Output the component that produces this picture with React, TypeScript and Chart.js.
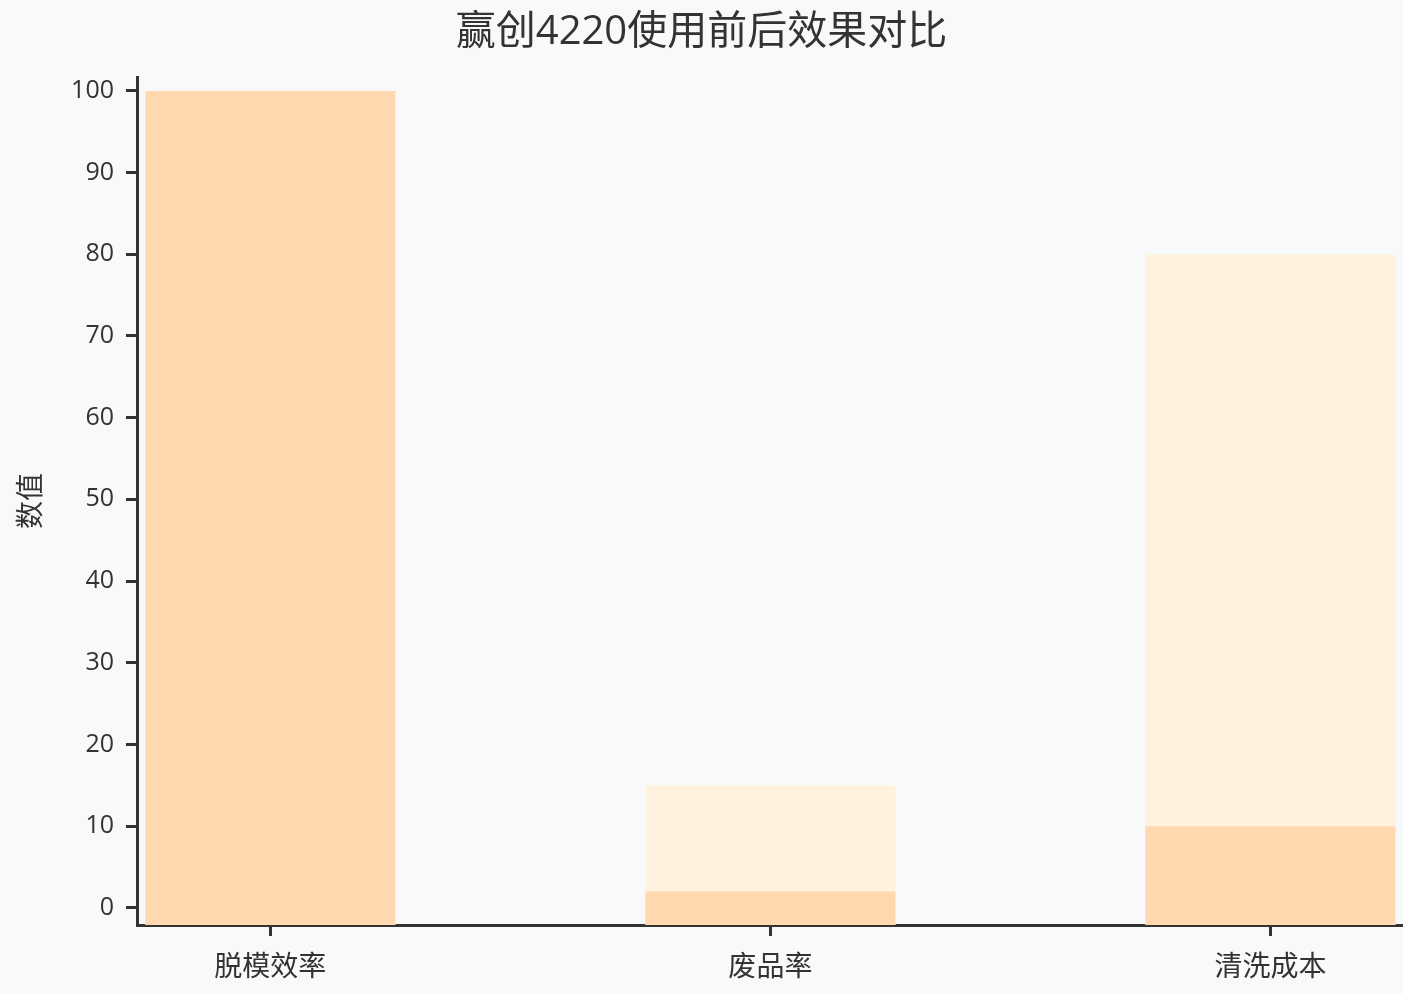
import React, { useEffect, useRef } from "react";
import { Chart, registerables } from "chart.js";

Chart.register(...registerables);

const categories = ["脱模效率", "废品率", "清洗成本"];
const afterValues = [100, 2, 10];
const beforeValues = [60, 15, 80];
const yTicks = [0, 10, 20, 30, 40, 50, 60, 70, 80, 90, 100];

const TEXT = "#333333";
const FONT = '"Open Sans", "Noto Sans CJK SC", sans-serif';

export default function App() {
  const ref = useRef<HTMLCanvasElement | null>(null);

  useEffect(() => {
    document.body.style.margin = "0";
    document.body.style.background = "#F8F9FB";
    const canvas = ref.current;
    if (!canvas) return;
    const Y_MIN = -2.1;
    const chart = new Chart(canvas, {
      type: "bar",
      data: {
        datasets: [
          {
            label: "使用后",
            data: categories.map((_, i) => ({ x: i, y: afterValues[i] })),
            backgroundColor: "#FFD8B0",
            base: Y_MIN,
            grouped: false,
            barPercentage: 0.5,
            categoryPercentage: 1,
          } as any,
          {
            label: "使用前",
            data: categories.map((_, i) => ({ x: i, y: beforeValues[i] })),
            backgroundColor: "#FFF3DF",
            base: Y_MIN,
            grouped: false,
            barPercentage: 0.5,
            categoryPercentage: 1,
          } as any,
        ],
      },
      options: {
        animation: false,
        responsive: false,
        maintainAspectRatio: false,
        layout: { padding: 0 },
        plugins: {
          legend: { display: false },
          tooltip: { enabled: false },
          title: {
            display: true,
            text: "赢创4220使用前后效果对比",
            color: TEXT,
            font: { family: FONT, size: 40, weight: "normal" },
            padding: { top: 9, bottom: 20 },
          },
        },
        scales: {
          x: {
            type: "linear",
            min: -0.2665,
            max: 2.265,
            offset: false,
            afterBuildTicks: (axis: any) => {
              axis.ticks = categories.map((_, i) => ({ value: i }));
            },
            afterFit: (scale: any) => {
              scale.height = 69;
            },
            ticks: {
              callback: (v: any) => categories[v] ?? "",
              color: TEXT,
              font: { family: FONT, size: 28 },
              padding: 15,
              maxRotation: 0,
              autoSkip: false,
            },
            grid: {
              display: true,
              offset: false,
              drawOnChartArea: false,
              drawTicks: true,
              tickLength: 11,
              tickWidth: 3,
              lineWidth: 3,
              tickColor: TEXT,
              color: TEXT,
            },
            border: { display: true, color: TEXT, width: 3 },
          },
          y: {
            type: "linear",
            min: Y_MIN,
            max: 101.7,
            afterBuildTicks: (axis: any) => {
              axis.ticks = yTicks.map((v) => ({ value: v }));
            },
            afterFit: (scale: any) => {
              scale.width = 137;
            },
            ticks: {
              color: TEXT,
              font: { family: FONT, size: 25 },
              padding: 12,
            },
            grid: {
              display: true,
              offset: false,
              drawOnChartArea: false,
              drawTicks: true,
              tickLength: 11,
              tickWidth: 3,
              lineWidth: 3,
              tickColor: TEXT,
              color: TEXT,
            },
            border: { display: true, color: TEXT, width: 3 },
            title: {
              display: true,
              text: "数值",
              color: TEXT,
              font: { family: FONT, size: 28 },
              padding: { top: 15, bottom: 0 },
            },
          },
        },
      },
    });
    return () => chart.destroy();
  }, []);

  return (
    <div style={{ width: 1403, height: 994, background: "#F8F9FB" }}>
      <canvas ref={ref} width={1403} height={994} style={{ display: "block" }} />
    </div>
  );
}
